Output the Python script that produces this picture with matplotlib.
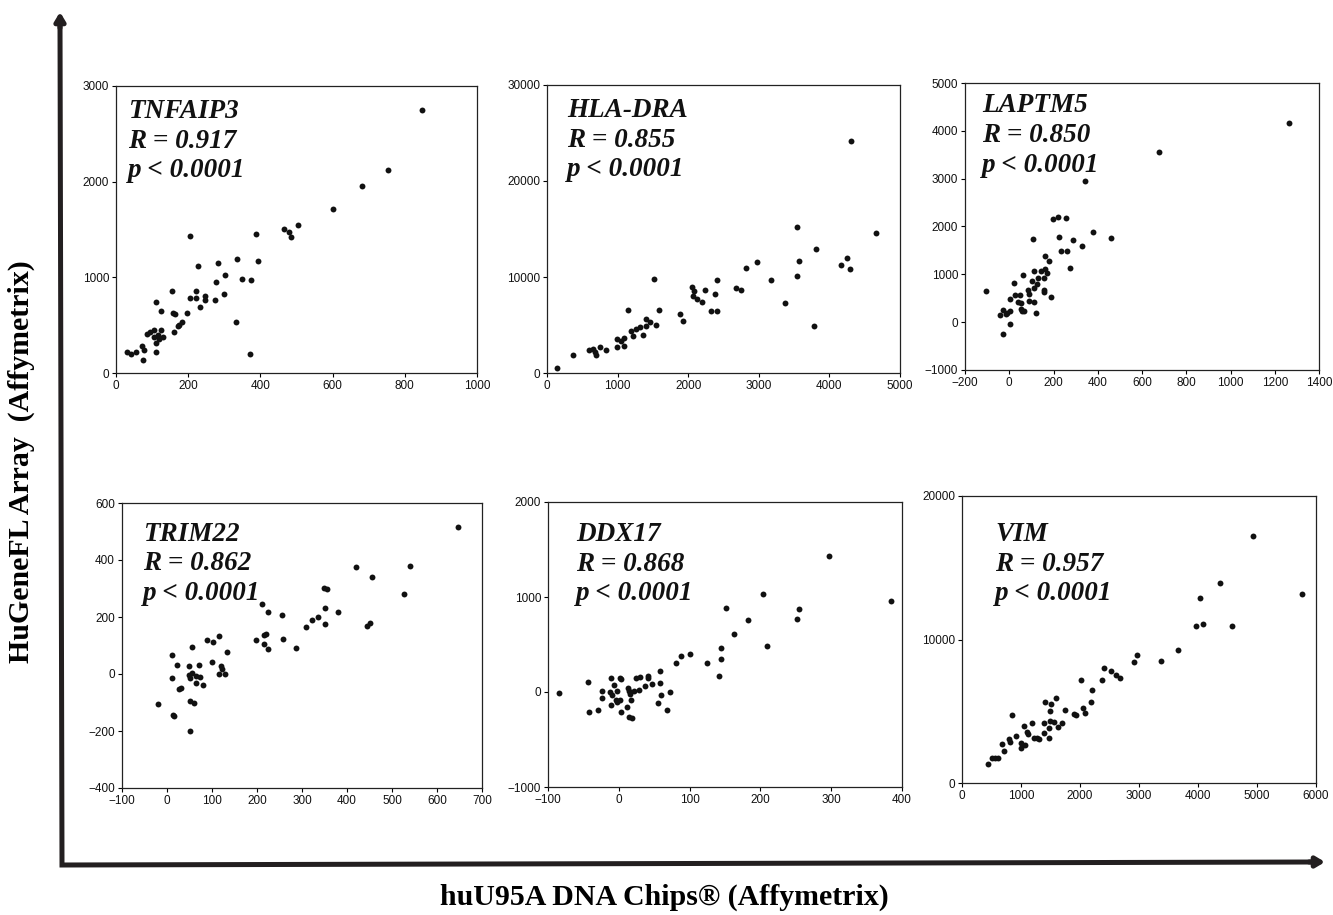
import matplotlib
matplotlib.use('Agg')
import matplotlib.pyplot as plt
from matplotlib.patches import FancyArrowPatch
from matplotlib.lines import Line2D

# gene names and stats
genes = ['TNFAIP3', 'HLA-DRA', 'LAPTM5', 'TRIM22', 'DDX17', 'VIM']
r_values = ['0.917', '0.855', '0.850', '0.862', '0.868', '0.957']

# TNFAIP3
tnfaip3_x = [849, 754, 682, 602, 505, 464, 480, 485, 389, 206, 394, 335, 283, 226, 303, 350, 374,
             277, 155, 221, 300, 246, 246, 206, 221, 273, 234, 112, 124, 198, 158, 164, 182, 175,
             173, 333, 162, 125, 106, 93, 86, 115, 119, 131, 112, 112, 72, 77, 30, 42, 55, 75, 370, 104]
tnfaip3_y = [2749, 2123, 1956, 1712, 1542, 1503, 1479, 1420, 1455, 1434, 1169, 1190, 1152, 1114, 1020,
             981, 967, 950, 853, 853, 825, 800, 759, 780, 787, 759, 689, 741, 651, 630, 626, 616, 536,
             505, 487, 529, 425, 445, 445, 425, 411, 400, 358, 372, 313, 216, 278, 244, 216, 202, 216,
             132, 195, 372]

# HLA-DRA
hla_x = [4305, 3535, 4655, 3809, 4249, 3563, 4159, 4291, 3535, 2977, 2817, 3176, 2415, 1512, 2051,
         2684, 2750, 2245, 2079, 2377, 2070, 2131, 2198, 3370, 1148, 1583, 2330, 2405, 1890, 1399,
         1933, 1460, 1541, 3776, 1408, 1314, 1267, 1196, 1219, 1361, 1092, 992, 1054, 992, 1096, 747,
         841, 595, 652, 681, 700, 369, 142]
hla_y = [24150, 15200, 14570, 12920, 11930, 11690, 11270, 10810, 10110, 11550, 10920, 9650, 9720,
         9760, 8950, 8880, 8670, 8670, 8530, 8250, 8000, 7720, 7370, 7340, 6600, 6530, 6460, 6460,
         6110, 5650, 5440, 5270, 5050, 4880, 4910, 4740, 4560, 4390, 3860, 3970, 3620, 3510, 3330,
         2740, 2810, 2740, 2420, 2350, 2490, 2210, 1860, 1860, 530]

# LAPTM5
laptm5_x = [1266, 677, 342, 199, 220, 256, 225, 377, 461, 286, 330, 109, 235, 262, 161, 181, 274,
            113, 63, 142, 161, 172, 157, 131, 104, 124, 112, 86, 157, 157, 90, 188, 20, -106, 26, 50,
            5, 89, 110, 38, 53, 53, 57, 68, -29, 3, -9, -41, -15, 119, 3, -27]
laptm5_y = [4160, 3555, 2957, 2157, 2191, 2177, 1774, 1885, 1767, 1718, 1600, 1732, 1482, 1482, 1391,
            1273, 1141, 1071, 995, 1078, 1113, 1030, 918, 925, 856, 800, 717, 682, 682, 640, 591, 529,
            814, 654, 577, 563, 487, 445, 431, 417, 403, 278, 223, 243, 257, 230, 195, 153, 167, 188,
            -42, -250]

# TRIM22
trim22_x = [646, 419, 539, 455, 527, 349, 355, 210, 225, 256, 350, 381, 335, 323, 309, 352, 444, 451,
            197, 220, 215, 216, 225, 257, 286, 116, 103, 89, 134, 56, 10, 100, 23, 49, 72, 120, 123,
            115, 128, 56, 49, 52, 65, 74, 12, 65, 79, 32, 27, -20, 52, 61, 13, 15, 52]
trim22_y = [515, 374, 380, 341, 280, 301, 299, 247, 219, 207, 231, 217, 200, 190, 165, 176, 170, 180,
            120, 142, 136, 105, 86, 123, 91, 133, 114, 120, 78, 95, 67, 41, 33, 29, 33, 27, 19, 0, -1,
            5, -3, -14, -7, -10, -14, -30, -37, -49, -53, -105, -94, -102, -143, -148, -201]

# DDX17
ddx17_x = [297, 204, 385, 151, 254, 251, 182, 163, 209, 145, 145, 100, 88, 81, 125, 141, 58, 58, 41,
           41, 30, 24, 47, 37, 28, 22, 15, 13, 16, 17, 1, 3, -11, -7, -2, -13, -24, -24, -9, -4, 1,
           -2, -11, 3, 11, 14, 18, -29, -42, -43, -85, 55, 60, 73, 68]
ddx17_y = [1428, 1028, 958, 888, 874, 772, 761, 611, 484, 467, 344, 397, 379, 305, 309, 168, 218, 95,
           165, 147, 158, 151, 81, 63, 18, 7, 7, 42, -25, -88, 147, 140, 144, 70, 10, 0, 7, -67, -35,
           -81, -81, -105, -140, -214, -161, -263, -274, -189, -214, 105, -7, -116, -35, -4, -189]

# VIM
vim_x = [4938, 4374, 5762, 4035, 4091, 3962, 4577, 3668, 2974, 2923, 3380, 2415, 2517, 2602, 2681,
         2376, 2015, 2195, 2178, 2048, 2093, 1597, 1405, 1507, 1495, 1749, 1891, 1930, 1383, 1484,
         1552, 1693, 1185, 841, 1478, 1620, 1383, 1467, 1055, 1100, 1123, 920, 1213, 1303, 1270, 790,
         818, 999, 1061, 999, 672, 717, 615, 513, 553, 446]
vim_y = [17216, 13921, 13202, 12877, 11067, 10928, 10974, 9258, 8886, 8445, 8515, 7981, 7773, 7517,
         7309, 7146, 7146, 6497, 5615, 5220, 4849, 5893, 5615, 5476, 4988, 5104, 4826, 4733, 4200,
         4316, 4246, 4200, 4200, 4733, 3805, 3921, 3480, 3132, 3944, 3550, 3410, 3295, 3132, 3063,
         3110, 3086, 2831, 2784, 2668, 2413, 2691, 2251, 1763, 1717, 1717, 1299]

xs = [tnfaip3_x, hla_x, laptm5_x, trim22_x, ddx17_x, vim_x]
ys = [tnfaip3_y, hla_y, laptm5_y, trim22_y, ddx17_y, vim_y]

x_limits = [(0, 1000), (0, 5000), (-200, 1400), (-100, 700), (-100, 400), (0, 6000)]
y_limits = [(0, 3000), (0, 30000), (-1000, 5000), (-400, 600), (-1000, 2000), (0, 20000)]
x_steps = [200, 1000, 200, 100, 100, 1000]
y_steps = [1000, 10000, 1000, 200, 1000, 10000]

W, H = 1333, 915
boxes = [(116, 86, 477, 373), (547, 85, 900, 373), (965, 83, 1319, 370),
         (122, 503, 482, 788), (548, 502, 902, 787), (962, 496, 1316, 783)]
text_pos = [(0.033, 0.955), (0.057, 0.955), (0.048, 0.965),
            (0.058, 0.935), (0.08, 0.93), (0.093, 0.91)]

fig = plt.figure(figsize=(W / 100, H / 100), dpi=100)

for i in range(6):
    l, t, r, b = boxes[i]
    ax = fig.add_axes([l / W, 1 - b / H, (r - l) / W, (b - t) / H])
    ax.scatter(xs[i], ys[i], s=18, marker='o', color='#111111', linewidths=0)
    ax.set_xlim(*x_limits[i])
    ax.set_ylim(*y_limits[i])
    x0, x1 = x_limits[i]
    y0, y1 = y_limits[i]
    ax.set_xticks(range(x0, x1 + 1, x_steps[i]))
    ax.set_yticks(range(y0, y1 + 1, y_steps[i]))
    ax.tick_params(direction='out', length=3, width=0.8, labelsize=8.5, pad=2, labelcolor='#111111')
    for lab in ax.get_xticklabels() + ax.get_yticklabels():
        lab.set_family('Liberation Sans')
    for sp in ax.spines.values():
        sp.set_linewidth(0.9)
        sp.set_color('#222222')
    ax.text(text_pos[i][0], text_pos[i][1],
            genes[i] + '\nR = ' + r_values[i] + '\np < 0.0001',
            transform=ax.transAxes, ha='left', va='top',
            family='Liberation Serif', weight='bold', style='italic',
            fontsize=19.5, linespacing=1.25, color='#111111')

# big L-shaped axes arrows
arrow_col = '#231f20'
corner = (62 / W, 1 - 865 / H)
top = (60 / W, 1 - 12 / H)
right = (1325 / W, 1 - 862 / H)
fig.add_artist(Line2D([top[0], corner[0], right[0] - 10 / W],
                      [top[1] - 10 / H, corner[1], right[1]],
                      transform=fig.transFigure, lw=3.6, color=arrow_col,
                      solid_joinstyle='miter', solid_capstyle='butt'))
fig.add_artist(FancyArrowPatch((top[0], top[1] - 16 / H), top, transform=fig.transFigure,
                               arrowstyle='-|>,head_length=5,head_width=3',
                               lw=3.6, color=arrow_col, shrinkA=0, shrinkB=0))
fig.add_artist(FancyArrowPatch((right[0] - 16 / W, right[1]), right, transform=fig.transFigure,
                               arrowstyle='-|>,head_length=5,head_width=3',
                               lw=3.6, color=arrow_col, shrinkA=0, shrinkB=0))

fig.text(21 / W, 1 - 462 / H, 'HuGeneFL Array  (Affymetrix)', rotation=90,
         ha='center', va='center', family='Liberation Serif', weight='bold', fontsize=21.5)
fig.text(664 / W, 1 - 897 / H, 'huU95A DNA Chips\u00ae (Affymetrix)',
         ha='center', va='center', family='Liberation Serif', weight='bold', fontsize=21.5)

fig.savefig('out.png', dpi=100, facecolor='white')
